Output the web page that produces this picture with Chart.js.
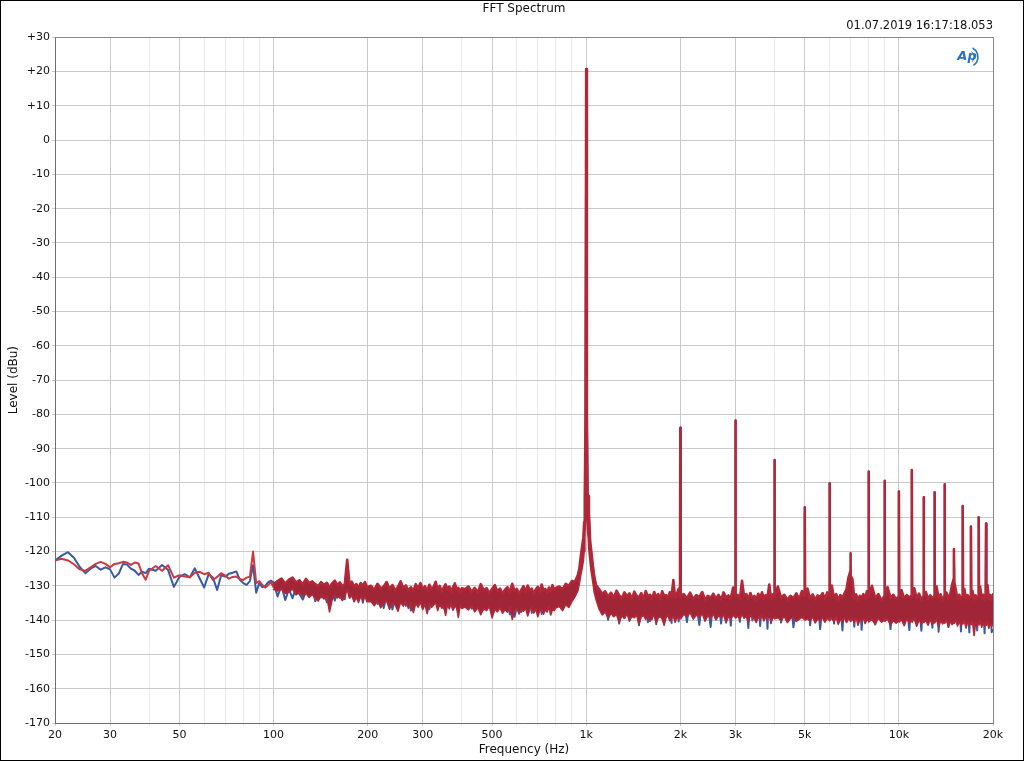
<!DOCTYPE html>
<html>
<head>
<meta charset="utf-8">
<title>FFT Spectrum</title>
<script src="https://cdn.jsdelivr.net/npm/chart.js@4.4.1/dist/chart.umd.min.js"></script>
<style>
  html, body { margin: 0; padding: 0; background: #fff; }
  canvas { display: block; }
</style>
</head>
<body>
<canvas id="fftChart" width="1024" height="761"></canvas>
<script>
// 20 - 100 Hz: both channels drawn as plain traces
const lowHz = [
  20,21,22,23,24,25,26,27,28,29,30,31,32,33,34,35,36,37,38,39,40,
  42,44,46,48,50,52,54,56,58,60,62,64,66,68,70,72,74,76,78,80,82,84,86,88,90,92,94,96,98,100
]
const lowBlue = [
  -122.6,-121.2,-120.2,-121.8,-124.5,-126.3,-125.0,-124.2,-125.3,-124.6,-125.2,-127.6,-126.4,-123.6,-123.8,-125.0,-125.6,-126.8,-125.9,-126.3,-125.0,
  -125.6,-123.9,-125.4,-130.3,-127.4,-126.6,-127.5,-124.9,-127.8,-130.5,
  -126.6,-127.6,-131.2,-126.9,-127.3,-126.5,-126.2,-125.8,-128.2,-129.2,
  -129.7,-128.6,-124.0,-132.0,-129.2,-130.4,-130.0,-129.0,-128.5,-129.0
]
const lowRed = [
  -122.6,-122.1,-122.6,-123.7,-125.2,-125.6,-124.6,-123.6,-123.0,-123.6,-124.6,-123.6,-123.4,-123.0,-123.2,-123.9,-123.2,-123.5,-126.4,-128.2,-125.6,
  -124.2,-125.6,-124.0,-127.6,-126.9,-127.3,-127.5,-126.2,-125.9,-126.6,
  -126.2,-128.3,-127.4,-126.3,-127.0,-127.9,-127.4,-127.3,-128.0,-128.3,
  -127.6,-127.3,-120.0,-129.2,-128.6,-129.7,-130.5,-129.8,-128.9,-130.4
]

// 100 Hz - 20 kHz: dense FFT noise floor, 1 kHz tone and its harmonics
const bandHz = [
  100,
  103,106,109,112,115,118,121,124,127,130,
  133,136,139,142,145,148,151,154,157,160,
  163,166,169,172,175,178,181,184,187,190,
  193,196,199,
  205,210,215,220,225,230,235,240,245,250,
  255,260,265,270,275,280,285,290,295,300,
  305,310,315,320,325,330,335,340,345,350,
  355,360,365,370,375,380,385,390,395,400,
  410,420,430,440,450,460,470,480,490,500,
  510,520,530,540,550,560,570,580,590,600,
  610,620,630,640,650,660,670,680,690,700,
  710,720,730,740,750,760,770,780,790,800,
  820,840,860,880,900,920,940,
  950,960,970,980,985,990,995,1000,1005,1010,1015,1020,1030,1040,1050,1060,1075,
  1100,1125,1150,1175,1200,1225,1250,1275,1300,1325,
  1350,1375,1400,1425,1450,1475,1500,1525,1550,1575,
  1600,1625,1650,1675,1700,1725,1750,1775,1800,1825,
  1850,1875,1900,1925,1950,1975,
  1995,2000,2005,
  2050,2100,2150,2200,2250,2300,2350,2400,2450,2500,
  2550,2600,2650,2700,2750,2800,2850,2900,2950,
  2992,3000,3008,
  3050,3100,3150,3200,3250,3300,3350,3400,3450,3500,
  3550,3600,3650,3700,3750,3800,3850,3900,3950,
  3990,4000,4010,
  4100,4200,4300,4400,4500,4600,4700,4800,4900, 4988,5000,5012,
  5100,5200,5300,5400,5500,5600,5700,5800,5900, 5985,6000,6015,
  6100,6200,6300,6400,6500,6600,6700,6800,6900, 6982,7000,7018,
  7100,7200,7300,7400,7500,7600,7700,7800,7900, 7980,8000,8020,
  8200,8400,8600,8800, 8978,9000,9022,
  9200,9400,9600,9800, 9975,10000,10025,
  10200,10400,10600,10800, 10972,11000,11028,
  11200,11400,11600,11800, 11970,12000,12030,
  12200,12400,12600,12800, 12968,13000,13032,
  13200,13400,13600,13800, 13965,14000,14035,
  14200,14400,14600,14800, 14962,15000,15038,
  15200,15400,15600,15800, 15960,16000,16040,
  16200,16400,16600,16800, 16958,17000,17042,
  17200,17400,17600,17800, 17955,18000,18045,
  18200,18400,18600,18800, 18952,19000,19048,
  19200,19400,19600,19800,20000
]

// channel 1 (blue) trace, dBu
const bandBlue = [
  -129.0,
  -133.1,-130.0,-134.1,-131.0,-133.6,-130.6,-132.4,-134.0,-131.7,-133.0,
  -130.6,-134.5,-132.2,-133.4,-131.8,-134.8,-133.0,-131.5,-134.3,-132.0,
  -133.5,-130.9,-133.9,-124.0,-133.0,-131.8,-134.6,-132.0,-133.4,-131.2,
  -134.9,-132.3,-133.7,
  -133.4,-131.1,-135.3,-132.6,-136.5,-133.0,-131.5,-136.9,-132.8,-135.1,
  -133.3,-130.9,-135.8,-132.5,-137.2,-133.6,-131.3,-135.4,-133.0,-136.4,
  -131.8,-134.2,-136.8,-132.7,-135.0,-133.1,-130.8,-135.9,-133.5,-136.6,
  -132.4,-134.8,-131.7,-135.2,-137.0,-133.2,-135.7,-132.3,-136.1,-134.0,
  -134.5,-132.2,-136.6,-133.4,-135.9,-132.8,-137.0,-134.1,-131.9,-135.6,
  -133.0,-137.4,-134.0,-132.1,-136.3,-133.2,-138.3,-134.9,-139.0,-136.0,
  -133.6,-137.6,-134.2,-131.8,-136.7,-133.4,-137.9,-134.0,-132.2,-136.5,
  -133.8,-138.2,-134.6,-132.0,-136.9,-133.5,-131.2,-135.8,-132.9,-136.0,
  -133.8,-131.2,-134.5,-130.9,-132.7,-129.2,-128.9,
  -127.5,-123.0,-120.5,-117.0,-112.5,-104.5,-82.0,20.7,-80.0,-104.0,-105.0,-108.5,-117.5,-125.5,-123.5,-129.0,-131.5,
  -132.4,-138.2,-134.0,-139.9,-133.3,-138.8,-134.6,-141.0,-133.7,-139.4,
  -135.0,-140.2,-133.2,-139.0,-134.3,-141.5,-133.9,-138.5,-135.2,-140.6,
  -133.4,-139.7,-134.8,-141.2,-133.0,-139.1,-135.5,-140.0,-133.6,-138.6,
  -134.9,-140.8,-129.5,-139.3,-134.1,-140.4,
  -134.5,-83.9,-134.2,
  -134.6,-140.6,-133.5,-139.0,-135.2,-141.4,-133.9,-138.7,-135.5,-142.0,
  -134.0,-139.8,-133.2,-141.0,-134.8,-138.9,-132.9,-141.6,-131.8,
  -134.3,-81.8,-134.6,
  -134.4,-140.5,-129.6,-139.3,-134.7,-142.3,-133.6,-140.1,-135.0,-139.2,
  -133.4,-141.7,-134.9,-140.0,-133.3,-142.5,-130.7,-140.9,-134.1,
  -134.8,-93.3,-134.5,
  -131.6,-140.7,-134.6,-139.2,-133.3,-142.1,-135.0,-139.7,-132.4, -134.6,-108.8,-134.9,
  -131.9,-141.5,-134.8,-140.1,-133.9,-142.6,-135.3,-139.4,-133.0, -134.7,-100.1,-134.4,
  -131.2,-141.0,-134.1,-139.6,-135.6,-143.0,-133.8,-140.3,-129.0, -128.5,-124.8,-129.5,
  -130.6,-141.9,-134.5,-140.2,-133.5,-142.8,-135.1,-139.8,-133.0, -134.8,-96.7,-134.6,
  -131.9,-141.3,-134.7,-140.0, -134.9,-99.4,-134.6,
  -132.2,-142.6,-135.1,-140.4, -135.0,-102.5,-134.8,
  -132.6,-139.2,-135.5,-142.9, -134.7,-96.2,-135.1,
  -131.7,-139.8,-134.9,-143.1, -135.2,-104.2,-134.9,
  -133.0,-140.5,-135.8,-142.2, -134.8,-102.7,-135.3,
  -131.4,-143.4,-134.6,-139.6, -135.0,-100.4,-134.7,
  -133.3,-142.0,-135.4,-130.9, -129.5,-121.0,-130.5,
  -132.4,-139.9,-135.0,-143.3, -135.1,-106.7,-134.9,
  -132.1,-140.7,-135.7,-143.6, -135.3,-112.7,-135.0,
  -132.8,-141.8,-135.2,-143.0, -135.4,-110.0,-135.1,
  -131.6,-140.4,-136.0,-143.8, -135.2,-111.8,-135.5,
  -131.0,-141.0,-135.3,-143.5,-142.9
]

// channel 2 (red): upper and lower edge of its noise band, dBu
const redTop = [
  -129.6,
  -128.6,-127.9,-129.4,-128.2,-127.6,-129.0,-128.4,-129.6,-128.0,-129.2,
  -128.7,-129.5,-130.1,-128.9,-129.7,-129.1,-130.4,-129.3,-128.5,-129.8,
  -129.0,-130.2,-129.4,-122.4,-129.6,-128.8,-130.3,-129.5,-130.6,-129.2,
  -130.0,-128.9,-130.4,
  -130.0,-131.2,-129.4,-130.8,-130.2,-128.9,-130.9,-129.8,-131.4,-130.3,
  -128.7,-130.6,-129.9,-131.3,-130.4,-131.6,-129.5,-130.8,-129.2,-131.0,
  -130.1,-131.5,-129.7,-130.9,-130.3,-128.8,-131.2,-130.0,-131.7,-130.5,
  -129.6,-131.1,-130.2,-131.8,-130.4,-129.3,-131.0,-130.6,-131.9,-130.7,
  -131.0,-130.2,-131.8,-130.6,-132.0,-129.5,-131.3,-130.7,-132.2,-130.9,
  -129.8,-131.6,-130.8,-132.3,-131.1,-130.4,-131.9,-129.4,-131.5,-130.9,
  -132.4,-131.2,-130.1,-131.8,-129.9,-131.4,-130.8,-132.5,-131.0,-130.3,
  -131.7,-129.6,-131.3,-130.9,-132.1,-130.5,-131.6,-129.8,-131.2,-130.6,
  -130.2,-131.0,-129.4,-130.0,-128.6,-128.9,-126.8,
  -125.2,-121.6,-118.6,-115.8,-111.5,-103.5,-80.5,20.7,-79.5,-102.8,-103.8,-109.0,-117.5,-120.5,-124.2,-127.0,-129.8,
  -131.0,-132.4,-131.6,-133.2,-132.0,-133.5,-131.4,-132.8,-133.6,-131.9,
  -133.0,-132.2,-133.8,-131.7,-132.9,-133.4,-132.1,-133.9,-131.5,-133.1,
  -132.6,-133.7,-131.8,-133.3,-132.4,-134.0,-131.6,-133.0,-132.7,-133.6,
  -131.9,-133.2,-128.3,-133.5,-132.3,-130.9,
  -133.0,-83.9,-132.8,
  -132.4,-133.6,-132.0,-133.9,-132.7,-133.3,-131.8,-134.1,-132.9,-133.5,
  -132.3,-133.8,-132.6,-134.0,-131.9,-133.4,-132.8,-133.7,-130.5,
  -132.9,-81.8,-133.0,
  -132.6,-133.8,-128.5,-133.2,-132.4,-134.0,-132.1,-133.6,-132.9,-134.2,
  -132.3,-133.5,-131.9,-133.9,-132.7,-133.4,-129.6,-133.8,-132.5,
  -133.1,-93.3,-132.9,
  -130.2,-133.4,-132.6,-134.1,-132.9,-133.6,-132.2,-133.9,-131.5, -133.0,-107.1,-132.8,
  -130.8,-133.7,-132.5,-134.0,-132.8,-133.3,-132.1,-133.8,-131.9, -133.1,-100.1,-132.9,
  -129.9,-133.5,-132.4,-134.2,-132.7,-133.4,-132.2,-131.0,-127.5, -126.0,-120.5,-127.0,
  -128.0,-133.6,-132.5,-134.3,-132.9,-133.6,-132.4,-133.9,-131.6, -133.2,-96.7,-133.0,
  -130.0,-133.6,-132.4,-134.2, -133.0,-99.4,-132.8,
  -130.4,-133.5,-132.6,-134.0, -133.1,-102.5,-133.0,
  -131.3,-133.8,-132.7,-133.4, -132.9,-96.2,-133.2,
  -130.7,-133.6,-132.3,-134.1, -133.0,-104.2,-132.9,
  -131.8,-133.9,-132.8,-133.5, -133.2,-102.7,-133.1,
  -130.2,-133.7,-132.5,-134.2, -133.0,-100.4,-132.8,
  -132.0,-133.6,-132.4,-129.6, -128.0,-119.3,-129.0,
  -131.1,-133.8,-132.6,-134.0, -133.1,-106.7,-132.9,
  -130.9,-133.9,-132.7,-133.6, -133.0,-112.7,-133.3,
  -131.5,-134.1,-132.8,-133.7, -133.2,-110.0,-133.0,
  -130.3,-133.8,-132.6,-134.2, -133.1,-111.8,-133.4,
  -129.8,-133.9,-132.7,-134.0,-132.5
]
const redBottom = [
  -131.0,
  -131.5,-131.0,-132.2,-131.8,-130.9,-132.6,-131.9,-133.0,-132.2,-133.4,
  -132.5,-133.6,-134.4,-132.9,-133.8,-133.1,-137.6,-134.0,-132.6,-133.5,
  -133.0,-134.3,-133.2,-131.0,-133.6,-132.8,-134.5,-133.4,-134.8,-133.1,
  -134.2,-133.0,-134.6,
  -134.6,-135.8,-134.2,-136.4,-135.0,-134.4,-136.8,-134.9,-135.6,-137.4,
  -134.8,-135.9,-134.5,-136.6,-135.2,-137.8,-135.1,-136.2,-134.7,-136.9,
  -135.4,-138.1,-135.0,-136.3,-135.6,-134.9,-137.2,-135.3,-136.5,-135.8,
  -138.6,-135.5,-136.7,-135.1,-137.0,-135.9,-136.4,-139.2,-135.7,-136.6,
  -136.2,-137.0,-135.8,-137.6,-136.3,-138.4,-136.5,-137.2,-136.0,-139.3,
  -136.8,-137.5,-136.4,-138.0,-136.9,-137.7,-136.2,-139.8,-137.1,-136.6,
  -138.2,-136.9,-137.4,-136.5,-138.8,-137.0,-136.3,-137.9,-136.7,-139.0,
  -137.3,-136.6,-138.3,-136.9,-137.6,-136.1,-138.5,-136.8,-137.2,-136.4,
  -136.0,-137.2,-135.5,-136.3,-134.6,-133.2,-131.5,
  -129.5,-127.0,-125.0,-122.5,-120.0,-116.0,-110.0,-100.0,-110.0,-114.0,-116.0,-119.5,-123.5,-126.5,-129.0,-131.8,-134.0,
  -136.8,-138.5,-137.6,-139.4,-138.0,-139.0,-138.4,-140.6,-138.7,-139.5,
  -138.2,-140.1,-138.9,-139.3,-138.5,-141.2,-139.0,-138.6,-139.8,-138.8,
  -140.4,-139.1,-138.7,-140.8,-139.3,-138.9,-139.7,-141.5,-139.2,-138.6,
  -140.2,-139.4,-138.9,-140.6,-139.1,-139.7,
  -139.4,-139.0,-139.6,
  -138.3,-139.0,-137.8,-139.7,-138.5,-139.2,-138.1,-140.3,-138.6,-139.5,
  -138.2,-139.9,-138.7,-139.3,-138.4,-140.8,-138.9,-139.6,-138.5,
  -139.1,-138.7,-139.4,
  -138.8,-139.7,-138.3,-139.4,-138.9,-140.5,-138.6,-139.2,-139.6,-140.7,
  -139.0,-139.8,-138.5,-140.2,-139.1,-139.5,-138.7,-140.6,-139.3,
  -139.2,-138.9,-139.6,
  -139.3,-140.1,-138.9,-140.7,-139.5,-139.1,-140.4,-139.7,-139.2, -139.8,-139.4,-140.0,
  -139.6,-140.3,-139.0,-140.8,-139.7,-140.1,-139.3,-140.6,-139.5, -139.9,-139.4,-140.2,
  -139.4,-140.5,-139.1,-141.2,-139.8,-140.3,-139.2,-140.7,-139.6, -140.0,-139.7,-140.4,
  -139.7,-140.6,-139.2,-141.5,-139.9,-140.2,-139.4,-141.0,-139.7, -140.2,-139.8,-140.5,
  -139.8,-141.2,-139.4,-140.6, -140.0,-139.6,-140.3,
  -139.7,-141.4,-140.1,-140.9, -140.2,-139.7,-140.5,
  -139.9,-141.6,-139.6,-140.8, -140.1,-139.8,-140.6,
  -139.5,-141.8,-140.0,-141.0, -140.3,-139.8,-140.7,
  -140.1,-141.5,-139.8,-141.2, -140.4,-140.0,-140.8,
  -139.7,-141.9,-140.2,-141.1, -140.5,-140.1,-140.9,
  -140.0,-142.0,-140.3,-141.3, -140.6,-140.2,-141.0,
  -139.8,-141.7,-140.4,-141.5, -140.7,-140.3,-141.1,
  -140.2,-142.3,-140.5,-141.4, -140.8,-140.4,-141.3,
  -140.3,-144.5,-140.6,-141.7, -140.9,-140.5,-141.4,
  -140.1,-142.1,-140.7,-141.6, -141.0,-140.6,-141.5,
  -140.4,-142.4,-140.8,-141.8,-141.2
]

// x grid lines and the ones that carry a label
const xGridHz = [20,30,40,50,60,70,80,90,100,200,300,400,500,600,700,800,900,
  1000,2000,3000,4000,5000,6000,7000,8000,9000,10000,20000]
const xLabelHz = [20,30,50,100,200,300,500,1000,2000,3000,5000,10000,20000]
const xLabelText = ['20','30','50','100','200','300','500','1k','2k','3k','5k','10k','20k']

const yMin = -170
const yMax = 30
const yStep = 10

const titleText = 'FFT Spectrum'
const stampText = '01.07.2019 16:17:18.053'

;[['low', lowHz, lowBlue, lowRed], ['band', bandHz, bandBlue, redTop, redBottom]].forEach(([name, xs, ...ys]) => {
  ys.forEach(arr => { if (arr.length !== xs.length) console.error(name, 'length mismatch', xs.length, arr.length) })
})

const toPoints = (xs, ys) => xs.map((f, i) => ({ x: f, y: ys[i] }))
const FONT = '"DejaVu Sans", sans-serif'
const RED_LINE = 'rgb(206, 56, 64)'
const RED_EDGE = 'rgb(178, 40, 56)'
const RED_FILL = 'rgb(160, 38, 55)'
const BLUE_LINE = 'rgb(56, 90, 165)'

// white background, outer frame, plot border and the AP logo
const framePlugin = {
  id: 'frame',
  beforeDraw(chart) {
    const ctx = chart.ctx
    ctx.save()
    ctx.fillStyle = '#fff'
    ctx.fillRect(0, 0, chart.width, chart.height)
    ctx.restore()
  },
  afterDraw(chart) {
    const { ctx, chartArea: a } = chart
    ctx.save()
    ctx.strokeStyle = '#8a8a8a'
    ctx.lineWidth = 1
    ctx.beginPath()
    ctx.moveTo(a.left, Math.round(a.top) + 0.5)
    ctx.lineTo(a.right, Math.round(a.top) + 0.5)
    ctx.moveTo(Math.round(a.right) + 0.5, a.top)
    ctx.lineTo(Math.round(a.right) + 0.5, a.bottom)
    ctx.stroke()

    ctx.strokeStyle = '#000'
    ctx.strokeRect(0.5, 0.5, chart.width - 1, chart.height - 1)

    // AP logo
    ctx.fillStyle = '#2a72c2'
    ctx.strokeStyle = '#2a72c2'
    ctx.font = 'italic bold 13px ' + FONT
    ctx.textAlign = 'center'
    ctx.textBaseline = 'middle'
    ctx.fillText('Ap', 967, 57)
    ctx.lineWidth = 1.6
    ctx.beginPath()
    ctx.arc(968, 57, 10, -1.1, 1.0)
    ctx.stroke()
    ctx.lineWidth = 1
    ctx.beginPath()
    ctx.arc(967, 57, 7, -0.9, 0.8)
    ctx.stroke()
    ctx.restore()
  }
}

const lineStyle = {
  pointRadius: 0,
  borderJoinStyle: 'round',
  borderCapStyle: 'round'
}

const ctx = document.getElementById('fftChart').getContext('2d')
new Chart(ctx, {
  type: 'line',
  data: {
    datasets: [
      { ...lineStyle, label: 'Ch2 top', data: toPoints(bandHz, redTop), borderColor: RED_EDGE, borderWidth: 2.6, fill: false, order: 0 },
      { ...lineStyle, label: 'Ch2 bottom', data: toPoints(bandHz, redBottom), borderColor: RED_EDGE, borderWidth: 1.6,
        backgroundColor: RED_FILL, fill: '-1', order: 0 },
      { ...lineStyle, label: 'Ch2', data: toPoints(lowHz, lowRed), borderColor: RED_LINE, borderWidth: 2, fill: false, order: 0 },
      { ...lineStyle, label: 'Ch1', data: toPoints(bandHz, bandBlue), borderColor: BLUE_LINE, borderWidth: 2, fill: false, order: 1 },
      { ...lineStyle, label: 'Ch1 low', data: toPoints(lowHz, lowBlue), borderColor: BLUE_LINE, borderWidth: 2, fill: false, order: 1 }
    ]
  },
  options: {
    responsive: false,
    animation: false,
    events: [],
    layout: { padding: { left: 0, right: 31, top: 0, bottom: 0 } },
    plugins: {
      legend: { display: false },
      tooltip: { enabled: false },
      title: {
        display: true,
        fullSize: false,
        text: titleText,
        color: '#111',
        font: { family: FONT, size: 12, weight: 'normal' },
        padding: { top: 2, bottom: 2 }
      },
      subtitle: {
        display: true,
        fullSize: false,
        align: 'end',
        text: stampText,
        color: '#111',
        font: { family: FONT, size: 11.5, weight: 'normal' },
        padding: { top: 1, bottom: 4 }
      }
    },
    scales: {
      x: {
        type: 'logarithmic',
        min: 20,
        max: 20000,
        afterBuildTicks: (axis) => { axis.ticks = xGridHz.map(v => ({ value: v })) },
        afterFit: (scale) => { scale.height = 38 },
        ticks: {
          autoSkip: false,
          maxRotation: 0,
          padding: 3,
          color: '#111',
          font: { family: FONT, size: 11 },
          callback: (value) => {
            const i = xLabelHz.indexOf(value)
            return i >= 0 ? xLabelText[i] : ''
          }
        },
        grid: {
          color: (c) => xLabelHz.includes(c.tick && c.tick.value) ? '#cbcbcb' : '#ebebeb',
          drawTicks: true,
          tickLength: 3
        },
        border: { color: '#6e6e6e' },
        title: {
          display: true,
          text: 'Frequency (Hz)',
          color: '#111',
          font: { family: FONT, size: 12 },
          padding: { top: 0, bottom: 4 }
        }
      },
      y: {
        min: yMin,
        max: yMax,
        afterFit: (scale) => { scale.width = 55 },
        ticks: {
          stepSize: yStep,
          padding: 2,
          color: '#111',
          font: { family: FONT, size: 11 },
          callback: (v) => v > 0 ? '+' + v : String(v)
        },
        grid: { color: '#cbcbcb', drawTicks: true, tickLength: 3 },
        border: { color: '#6e6e6e' },
        title: {
          display: true,
          text: 'Level (dBu)',
          color: '#111',
          font: { family: FONT, size: 12 },
          padding: { top: 7, bottom: 0 }
        }
      }
    }
  },
  plugins: [framePlugin]
})
</script>
</body>
</html>
